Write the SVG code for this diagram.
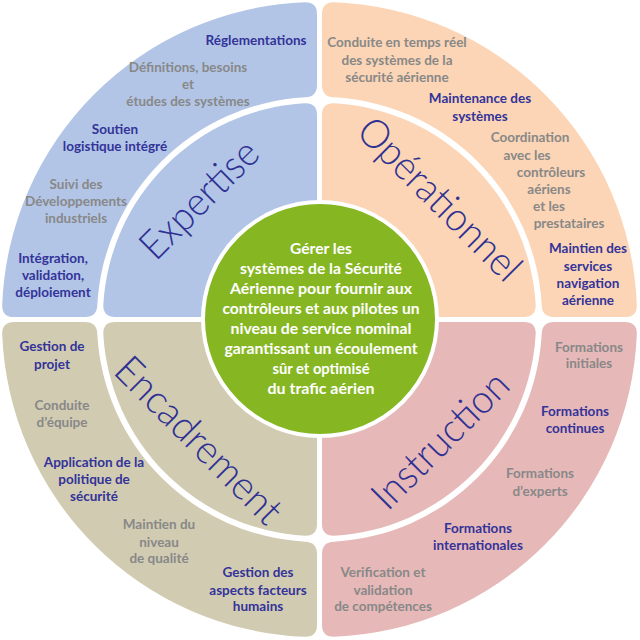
<svg xmlns="http://www.w3.org/2000/svg" width="640" height="640" viewBox="0 0 640 640">
<defs>
<style>
.t{font-family:Lato,"Liberation Sans",sans-serif;font-size:13.5px;font-weight:bold;text-anchor:middle}
.b{fill:#333399}
.g{fill:#888888}
.big{font-family:Lato,"Liberation Sans",sans-serif;font-size:40px;font-weight:300;fill:#2E3192;text-anchor:middle}
.c{font-family:Lato,"Liberation Sans",sans-serif;font-size:14.5px;font-weight:bold;fill:#ffffff;text-anchor:middle}
</style>
<path id="inner" d="M0,0 L0,-202 Q0,-214 -12,-213.7 A214,214 0 0 0 -213.7,-12 Q-214,0 -202,0 Z"/>
<path id="outer" d="M0,-232 L0,-303 Q0,-315 -12,-314.8 A315,315 0 0 0 -314.8,-12 Q-315,0 -303,0 L-232,0 Q-220,0 -219.7,-12 A220,220 0 0 1 -12,-219.7 Q0,-220 0,-232 Z"/>
</defs>
<rect width="640" height="640" fill="#ffffff"/>
<g id="expertise">
<g transform="translate(317,317)" fill="#B2C5E6"><use href="#outer"/><use href="#inner"/></g>
<text class="big" transform="translate(199,199) rotate(-45)" x="0" y="14" textLength="150" lengthAdjust="spacingAndGlyphs">Expertise</text>
<text class="t b" x="256" y="45">Réglementations</text>
<text class="t g" x="188" y="72">Définitions, besoins</text>
<text class="t g" x="188" y="89">et</text>
<text class="t g" x="188" y="106">études des systèmes</text>
<text class="t b" x="115" y="134">Soutien</text>
<text class="t b" x="115" y="151">logistique intégré</text>
<text class="t g" x="76" y="189">Suivi des</text>
<text class="t g" x="76" y="206">Développements</text>
<text class="t g" x="76" y="223">industriels</text>
<text class="t b" x="53" y="263">Intégration,</text>
<text class="t b" x="53" y="280">validation,</text>
<text class="t b" x="53" y="297">déploiement</text>
</g>
<g id="operationnel">
<g transform="translate(322,317) scale(-1,1)" fill="#FBD5B5"><use href="#outer"/><use href="#inner"/></g>
<text class="big" transform="translate(440,199) rotate(45)" x="0" y="14" textLength="213" lengthAdjust="spacingAndGlyphs">Opérationnel</text>
<text class="t g" x="397" y="47">Conduite en temps réel</text>
<text class="t g" x="397" y="65">des systèmes de la</text>
<text class="t g" x="397" y="82">sécurité aérienne</text>
<text class="t b" x="480" y="103">Maintenance des</text>
<text class="t b" x="480" y="121">systèmes</text>
<text class="t g" x="530" y="142">Coordination</text>
<text class="t g" x="527" y="160">avec les</text>
<text class="t g" x="551" y="177">contrôleurs</text>
<text class="t g" x="549" y="194">aériens</text>
<text class="t g" x="549" y="211">et les</text>
<text class="t g" x="569" y="228">prestataires</text>
<text class="t b" x="588" y="253">Maintien des</text>
<text class="t b" x="588" y="271">services</text>
<text class="t b" x="588" y="288">navigation</text>
<text class="t b" x="588" y="305">aérienne</text>
</g>
<g id="encadrement">
<g transform="translate(317,322) scale(1,-1)" fill="#D1CBB2"><use href="#outer"/><use href="#inner"/></g>
<text class="big" transform="translate(199,440) rotate(45)" x="0" y="14" textLength="218" lengthAdjust="spacingAndGlyphs">Encadrement</text>
<text class="t b" x="52" y="351">Gestion de</text>
<text class="t b" x="52" y="369">projet</text>
<text class="t g" x="62" y="410">Conduite</text>
<text class="t g" x="62" y="427">d’équipe</text>
<text class="t b" x="94" y="467">Application de la</text>
<text class="t b" x="94" y="484">politique de</text>
<text class="t b" x="94" y="501">sécurité</text>
<text class="t g" x="159" y="529">Maintien du</text>
<text class="t g" x="159" y="547">niveau</text>
<text class="t g" x="159" y="563">de qualité</text>
<text class="t b" x="258" y="577">Gestion des</text>
<text class="t b" x="258" y="595">aspects facteurs</text>
<text class="t b" x="258" y="611">humains</text>
</g>
<g id="instruction">
<g transform="translate(322,322) scale(-1,-1)" fill="#E6B9B8"><use href="#outer"/><use href="#inner"/></g>
<text class="big" transform="translate(440,440) rotate(-45)" x="0" y="14" textLength="176" lengthAdjust="spacingAndGlyphs">Instruction</text>
<text class="t g" x="589" y="352">Formations</text>
<text class="t g" x="589" y="368">initiales</text>
<text class="t b" x="575" y="416">Formations</text>
<text class="t b" x="575" y="433">continues</text>
<text class="t g" x="540" y="478">Formations</text>
<text class="t g" x="540" y="496">d’experts</text>
<text class="t b" x="478" y="533">Formations</text>
<text class="t b" x="478" y="550">internationales</text>
<text class="t g" x="383" y="577">Verification et</text>
<text class="t g" x="383" y="595">validation</text>
<text class="t g" x="383" y="611">de compétences</text>
</g>
<g id="centre">
<circle cx="320" cy="319" r="117" fill="#86B723" stroke="#ffffff" stroke-width="4"/>
<text class="c" x="321" y="254" textLength="62" lengthAdjust="spacingAndGlyphs">Gérer les</text>
<text class="c" x="321" y="274" textLength="162" lengthAdjust="spacingAndGlyphs">systèmes de la Sécurité</text>
<text class="c" x="321" y="294" textLength="182" lengthAdjust="spacingAndGlyphs">Aérienne pour fournir aux</text>
<text class="c" x="321" y="314" textLength="197" lengthAdjust="spacingAndGlyphs">contrôleurs et aux pilotes un</text>
<text class="c" x="321" y="334" textLength="181" lengthAdjust="spacingAndGlyphs">niveau de service nominal</text>
<text class="c" x="321" y="354" textLength="193" lengthAdjust="spacingAndGlyphs">garantissant un écoulement</text>
<text class="c" x="321" y="374" textLength="97" lengthAdjust="spacingAndGlyphs">sûr et optimisé</text>
<text class="c" x="321" y="394" textLength="107" lengthAdjust="spacingAndGlyphs">du trafic aérien</text>
</g>
<g id="connectors"/>
</svg>
